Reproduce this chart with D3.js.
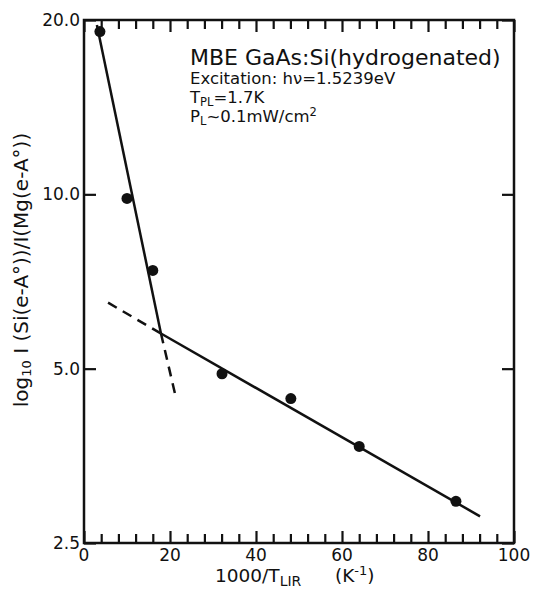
<!DOCTYPE html>
<html>
<head>
<meta charset="utf-8">
<script src="https://cdn.jsdelivr.net/npm/d3@7"></script>
<style>
body { margin: 0; background: #fff; }
text { font-family: "DejaVu Sans", sans-serif; fill: #111; }
</style>
</head>
<body>
<script>
// measured points, 1000/T vs intensity ratio
var xValues = [3.7, 10.0, 16.0, 32.1, 48.1, 64.0, 86.5];
var yValues = [19.1, 9.84, 7.39, 4.90, 4.44, 3.67, 2.95];

// fitted lines
var steepLine = [[3.0, 19.6], [17.9, 5.75]];
var steepDash = [[17.9, 5.75], [21.4, 4.45]];
var shallowLine = [[17.9, 5.75], [92.1, 2.78]];
var shallowDash = [[5.6, 6.5], [17.9, 5.75]];

var xTicks = [0, 20, 40, 60, 80, 100];
var yTicks = [2.5, 5.0, 10.0, 20.0];

var margin = {top: 20, right: 21, bottom: 47, left: 84},
    width = 535 - margin.left - margin.right,
    height = 590 - margin.top - margin.bottom;

var svg = d3.select("body").append("svg")
    .attr("width", 535)
    .attr("height", 590)
    .append("g")
    .attr("transform", "translate(" + margin.left + "," + margin.top + ")");

var x = d3.scaleLinear().domain([0, 100]).range([0, width]);
var y = d3.scaleLog().domain([2.5, 20]).range([height, 0]);

// minor ticks every 4 units, longer ones at the labels
var minor = d3.range(0, 101, 4).filter(function(d) {return d % 20 != 0;});

var styleAxis = function(g) {
    g.select(".domain").remove();
    g.selectAll("text").remove();
    g.selectAll("line").attr("stroke", "#111").attr("stroke-width", 2.2);
}

svg.append("g").attr("transform", "translate(0," + height + ")")
    .call(d3.axisBottom(x).tickValues(minor).tickSize(-9)).call(styleAxis);
svg.append("g").attr("transform", "translate(0," + height + ")")
    .call(d3.axisBottom(x).tickValues(xTicks).tickSize(-12)).call(styleAxis);
svg.append("g")
    .call(d3.axisTop(x).tickValues(minor).tickSize(-9)).call(styleAxis);
svg.append("g")
    .call(d3.axisTop(x).tickValues(xTicks).tickSize(-12)).call(styleAxis);
svg.append("g")
    .call(d3.axisLeft(y).tickValues(yTicks).tickSize(-12)).call(styleAxis);
svg.append("g").attr("transform", "translate(" + width + ",0)")
    .call(d3.axisRight(y).tickValues(yTicks).tickSize(-12)).call(styleAxis);

svg.append("path")
    .attr("d", "M0,0H" + width + "V" + height + "H0Z")
    .attr("fill", "none")
    .attr("stroke", "#111")
    .attr("stroke-width", 2.5);

// tick labels
svg.selectAll(".xl").data(xTicks).enter().append("text")
    .attr("x", function(d) {return x(d);})
    .attr("y", height + 18)
    .attr("text-anchor", "middle")
    .attr("font-size", 17)
    .text(function(d) {return d;});

svg.selectAll(".yl").data(yTicks).enter().append("text")
    .attr("x", -4)
    .attr("y", function(d) {return y(d) + 6;})
    .attr("text-anchor", "end")
    .attr("font-size", 17)
    .text(function(d) {return d.toFixed(1);});

var line = d3.line()
    .x(function(d) {return x(d[0]);})
    .y(function(d) {return y(d[1]);});

[steepLine, shallowLine].forEach(function(l) {
    svg.append("path").attr("d", line(l))
        .attr("fill", "none").attr("stroke", "#111").attr("stroke-width", 2.5);
});
[steepDash, shallowDash].forEach(function(l) {
    svg.append("path").attr("d", line(l))
        .attr("fill", "none").attr("stroke", "#111").attr("stroke-width", 2.5)
        .attr("stroke-dasharray", "10,7");
});

svg.selectAll(".pt").data(xValues).enter().append("circle")
    .attr("cx", function(d) {return x(d);})
    .attr("cy", function(d, i) {return y(yValues[i]);})
    .attr("r", 5.5)
    .attr("fill", "#111");

// annotation
var ann = svg.append("g").attr("transform", "translate(106,0)");
ann.append("text").attr("x", 0).attr("y", 45).attr("font-size", 22)
    .text("MBE GaAs:Si(hydrogenated)");
ann.append("text").attr("x", 0).attr("y", 64).attr("font-size", 16.5)
    .text("Excitation: h\u03bd=1.5239eV");
var t3 = ann.append("text").attr("x", 0).attr("y", 83).attr("font-size", 16.5);
t3.append("tspan").text("T");
t3.append("tspan").attr("dy", 3).attr("font-size", 11.5).text("PL");
t3.append("tspan").attr("dy", -3).text("=1.7K");
var t4 = ann.append("text").attr("x", 0).attr("y", 102).attr("font-size", 16.5);
t4.append("tspan").text("P");
t4.append("tspan").attr("dy", 3).attr("font-size", 11.5).text("L");
t4.append("tspan").attr("dy", -3).text("~0.1mW/cm");
t4.append("tspan").attr("dy", -6).attr("font-size", 11.5).text("2");

// axis titles
var xt = svg.append("text")
    .attr("x", 131).attr("y", height + 39).attr("font-size", 18.5);
xt.append("tspan").text("1000/T");
xt.append("tspan").attr("dy", 4).attr("font-size", 14).text("LIR");
var xu = svg.append("text")
    .attr("x", 251).attr("y", height + 39).attr("font-size", 18.5);
xu.append("tspan").text("(K");
xu.append("tspan").attr("dy", -7).attr("font-size", 13).text("-1");
xu.append("tspan").attr("dy", 7).text(")");

var yt = svg.append("text")
    .attr("transform", "translate(-56," + (270 - margin.top) + ") rotate(-90)")
    .attr("text-anchor", "middle")
    .attr("font-size", 20);
yt.append("tspan").text("log");
yt.append("tspan").attr("dy", 3).attr("font-size", 13).text("10");
yt.append("tspan").attr("dy", -3).text(" I (Si(e-A\u00b0))/I(Mg(e-A\u00b0))");
</script>
</body>
</html>
